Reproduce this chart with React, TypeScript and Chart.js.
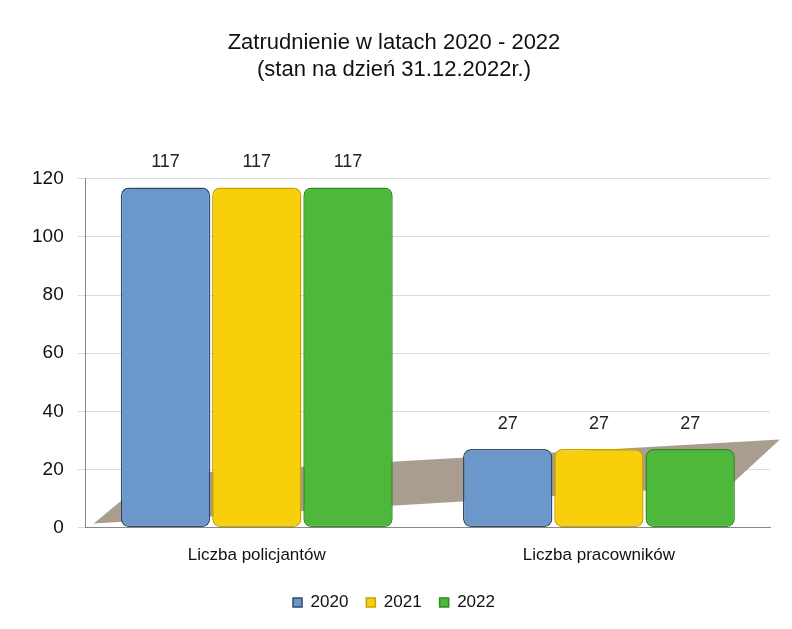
import React, { useEffect, useRef } from "react";
import { Chart, registerables } from "chart.js";

Chart.register(...registerables);

const categories = ["Liczba policjantów", "Liczba pracowników"];
const years = ["2020", "2021", "2022"];
const values2020 = [117, 27];
const values2021 = [117, 27];
const values2022 = [117, 27];
const yTicks = [0, 20, 40, 60, 80, 100, 120];
const titleLines = ["Zatrudnienie w latach 2020 - 2022", "(stan na dzień 31.12.2022r.)"];

const colors = ["#6b97cb", "#f7cf0a", "#4db83a"];
const borders = ["#2f4a66", "#c9a300", "#2f8a22"];

const valueLabels = {
  id: "valueLabels",
  afterDatasetsDraw(chart: any) {
    const ctx = chart.ctx;
    ctx.save();
    ctx.fillStyle = "#222";
    ctx.font = "18px 'Liberation Sans', Arial, sans-serif";
    ctx.textAlign = "center";
    ctx.textBaseline = "bottom";
    chart.data.datasets.forEach((ds: any, i: number) => {
      const meta = chart.getDatasetMeta(i);
      meta.data.forEach((el: any, j: number) => {
        ctx.fillText(String(ds.data[j]), el.x, el.y - 16);
      });
    });
    ctx.restore();
  },
};

const floor = {
  id: "floor",
  beforeDatasetsDraw(chart: any) {
    const { ctx, chartArea } = chart;
    const y0 = chart.scales.y.getPixelForValue(0);
    const l = chartArea.left;
    const r = chartArea.right;
    ctx.save();
    ctx.fillStyle = "#a99d8f";
    ctx.beginPath();
    ctx.moveTo(l + 8, y0 - 4);
    ctx.lineTo(r - 40, y0 - 42);
    ctx.lineTo(r + 10, y0 - 88);
    ctx.lineTo(l + 66, y0 - 52);
    ctx.closePath();
    ctx.fill();
    ctx.restore();
  },
};

export default function App() {
  const ref = useRef<HTMLCanvasElement>(null);
  useEffect(() => {
    if (!ref.current) return;
    const series = [values2020, values2021, values2022];
    const chart = new Chart(ref.current, {
      type: "bar",
      data: {
        labels: categories,
        datasets: years.map((y, i) => ({
          label: y,
          data: series[i],
          backgroundColor: colors[i],
          borderColor: borders[i],
          borderWidth: 1.5,
          borderRadius: 8,
          borderSkipped: false,
        })),
      },
      options: {
        animation: false,
        responsive: true,
        maintainAspectRatio: false,
        layout: { padding: { left: 10, right: 14, top: 0, bottom: 0 } },
        datasets: { bar: { categoryPercentage: 0.8, barPercentage: 0.98 } },
        plugins: {
          title: {
            display: true,
            text: titleLines,
            color: "#111",
            font: { family: "'Liberation Sans', Arial, sans-serif", size: 22, weight: "normal" },
            padding: { top: 22, bottom: 96 },
          },
          legend: {
            position: "bottom",
            labels: {
              color: "#111",
              boxWidth: 9,
              boxHeight: 9,
              padding: 18,
              font: { family: "'Liberation Sans', Arial, sans-serif", size: 17 },
            },
          },
          tooltip: { enabled: false },
        },
        scales: {
          x: {
            grid: { display: false },
            border: { color: "#888" },
            ticks: {
              color: "#111",
              padding: 10,
              font: { family: "'Liberation Sans', Arial, sans-serif", size: 17 },
            },
          },
          y: {
            min: 0,
            max: 120,
            afterBuildTicks: (axis: any) => {
              axis.ticks = yTicks.map((v) => ({ value: v }));
            },
            grid: { color: "#dcdcdc", drawTicks: true, tickLength: 8 },
            border: { color: "#888" },
            ticks: {
              color: "#111",
              padding: 14,
              font: { family: "'Liberation Sans', Arial, sans-serif", size: 19 },
            },
          },
        },
      },
      plugins: [floor, valueLabels],
    });
    return () => chart.destroy();
  }, []);
  return (
    <div style={{ width: 776, height: 613 }}>
      <canvas ref={ref} />
    </div>
  );
}
